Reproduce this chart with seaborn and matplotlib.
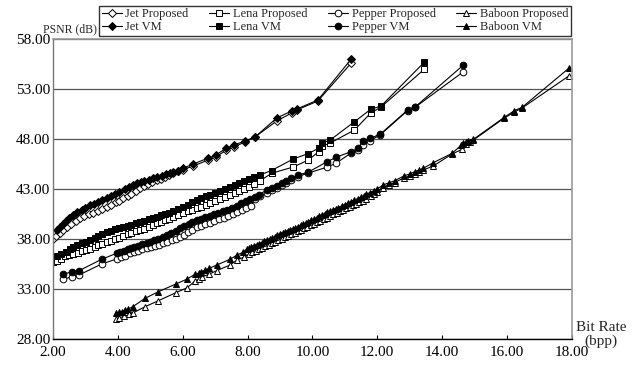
import matplotlib
matplotlib.use("Agg")
import matplotlib.pyplot as plt
import seaborn as sns
import pandas as pd
from matplotlib.lines import Line2D

# ---------------- data ----------------
jet_prop_x = [2.0, 2.1, 2.2, 2.3, 2.42, 2.55, 2.7, 2.83, 2.95, 3.1, 3.24, 3.38, 3.52, 3.66, 3.8, 3.95, 4.05, 4.17, 4.3, 4.42, 4.55, 4.68, 4.8, 4.92, 5.05, 5.2, 5.32, 5.45, 5.58, 5.7, 5.85, 6.0, 6.33, 6.79, 7.02, 7.35, 7.58, 7.92, 8.23, 8.9, 9.36, 9.52, 10.17, 11.2]
jet_prop_y = [38.03, 38.35, 38.65, 38.9, 39.17, 39.5, 39.8, 40.07, 40.3, 40.5, 40.6, 40.8, 41.0, 41.23, 41.45, 41.7, 41.85, 42.07, 42.3, 42.55, 42.8, 43.07, 43.3, 43.5, 43.7, 43.9, 44.05, 44.25, 44.45, 44.6, 44.8, 44.95, 45.3, 45.9, 46.2, 46.9, 47.2, 47.7, 48.2, 49.8, 50.6, 50.9, 51.8, 55.6]
jet_vm_x = [2.11, 2.2, 2.3, 2.4, 2.5, 2.63, 2.75, 2.88, 3.0, 3.14, 3.25, 3.4, 3.52, 3.66, 3.8, 3.92, 4.05, 4.22, 4.35, 4.46, 4.58, 4.7, 4.82, 4.95, 5.09, 5.22, 5.35, 5.5, 5.6, 5.71, 5.85, 6.02, 6.33, 6.79, 7.02, 7.35, 7.58, 7.92, 8.23, 8.9, 9.36, 9.52, 10.17, 11.2]
jet_vm_y = [38.9, 39.2, 39.5, 39.8, 40.1, 40.4, 40.7, 40.95, 41.15, 41.4, 41.55, 41.75, 41.9, 42.07, 42.3, 42.5, 42.7, 42.97, 43.2, 43.4, 43.57, 43.7, 43.8, 43.95, 44.07, 44.2, 44.35, 44.5, 44.6, 44.7, 44.85, 45.1, 45.5, 46.1, 46.4, 47.1, 47.4, 47.8, 48.2, 50.1, 50.8, 51.0, 51.9, 56.0]

lena_prop_x = [2.0, 2.12, 2.25, 2.38, 2.5, 2.63, 2.76, 2.9, 3.02, 3.14, 3.28, 3.4, 3.52, 3.66, 3.8, 3.92, 4.05, 4.17, 4.3, 4.42, 4.55, 4.68, 4.8, 4.95, 5.08, 5.2, 5.32, 5.45, 5.58, 5.71, 5.85, 6.0, 6.15, 6.3, 6.43, 6.58, 6.72, 6.85, 7.0, 7.15, 7.3, 7.45, 7.6, 7.75, 7.9, 8.05, 8.2, 8.38, 8.74, 9.41, 9.88, 10.19, 10.31, 10.55, 11.3, 11.8, 12.12, 13.45]
lena_prop_y = [35.67, 35.85, 36.05, 36.3, 36.45, 36.5, 36.65, 36.85, 36.95, 37.0, 37.2, 37.4, 37.5, 37.67, 37.85, 38.0, 38.15, 38.33, 38.5, 38.65, 38.78, 38.9, 39.05, 39.22, 39.4, 39.57, 39.72, 39.88, 40.05, 40.23, 40.42, 40.6, 40.8, 40.95, 41.07, 41.25, 41.42, 41.6, 41.8, 42.0, 42.2, 42.4, 42.6, 42.8, 43.0, 43.25, 43.5, 43.8, 44.57, 45.2, 45.9, 46.73, 47.3, 47.6, 48.9, 50.6, 51.2, 54.97]
lena_vm_x = [2.11, 2.25, 2.4, 2.52, 2.63, 2.75, 2.9, 3.02, 3.14, 3.28, 3.4, 3.52, 3.66, 3.8, 3.92, 4.05, 4.17, 4.3, 4.42, 4.55, 4.68, 4.8, 4.95, 5.08, 5.2, 5.32, 5.45, 5.58, 5.71, 5.85, 6.0, 6.15, 6.3, 6.43, 6.58, 6.72, 6.85, 7.0, 7.15, 7.3, 7.45, 7.6, 7.75, 7.9, 8.05, 8.2, 8.38, 8.74, 9.41, 9.88, 10.19, 10.31, 10.55, 11.3, 11.8, 12.12, 13.45]
lena_vm_y = [36.3, 36.5, 36.75, 37.0, 37.2, 37.4, 37.6, 37.75, 37.9, 38.1, 38.3, 38.5, 38.7, 38.85, 39.0, 39.12, 39.23, 39.35, 39.45, 39.6, 39.73, 39.85, 40.0, 40.1, 40.23, 40.38, 40.5, 40.65, 40.83, 41.0, 41.2, 41.45, 41.7, 41.9, 42.1, 42.3, 42.45, 42.65, 42.85, 43.05, 43.25, 43.45, 43.65, 43.8, 44.0, 44.2, 44.4, 44.85, 46.0, 46.55, 47.07, 47.6, 47.9, 49.73, 50.97, 51.3, 55.67]

pepper_prop_x = [2.32, 2.58, 2.8, 3.5, 3.96, 4.1, 4.23, 4.37, 4.5, 4.63, 4.76, 4.89, 5.02, 5.15, 5.28, 5.4, 5.53, 5.66, 5.79, 5.91, 6.04, 6.17, 6.3, 6.43, 6.56, 6.7, 6.84, 6.98, 7.12, 7.26, 7.4, 7.54, 7.68, 7.82, 7.96, 8.1, 8.24, 8.38, 8.59, 8.75, 8.9, 9.05, 9.2, 9.35, 9.56, 9.88, 10.44, 10.73, 11.19, 11.42, 11.57, 11.78, 12.09, 12.94, 13.18, 14.66]
pepper_prop_y = [33.97, 34.23, 34.4, 35.5, 36.0, 36.2, 36.35, 36.57, 36.72, 36.85, 36.97, 37.07, 37.2, 37.32, 37.45, 37.57, 37.72, 37.9, 38.05, 38.23, 38.45, 38.7, 38.93, 39.17, 39.35, 39.5, 39.65, 39.82, 39.98, 40.15, 40.32, 40.5, 40.7, 40.9, 41.1, 41.35, 42.0, 42.35, 42.6, 42.9, 43.15, 43.4, 43.65, 43.9, 44.25, 44.6, 45.17, 45.57, 46.6, 46.95, 47.4, 47.85, 48.4, 50.85, 51.2, 54.73]
pepper_vm_x = [2.32, 2.58, 2.8, 3.5, 3.96, 4.08, 4.2, 4.3, 4.4, 4.5, 4.62, 4.75, 4.89, 5.0, 5.12, 5.25, 5.4, 5.52, 5.65, 5.78, 5.91, 6.05, 6.18, 6.3, 6.43, 6.56, 6.7, 6.83, 6.96, 7.1, 7.24, 7.38, 7.52, 7.66, 7.8, 7.94, 8.08, 8.22, 8.36, 8.59, 8.75, 8.9, 9.05, 9.2, 9.35, 9.56, 9.88, 10.44, 10.73, 11.19, 11.42, 11.57, 11.78, 12.09, 12.94, 13.18, 14.66]
pepper_vm_y = [34.47, 34.73, 34.83, 35.97, 36.57, 36.75, 36.85, 36.97, 37.1, 37.2, 37.33, 37.47, 37.63, 37.75, 37.9, 38.05, 38.23, 38.4, 38.6, 38.85, 39.07, 39.3, 39.5, 39.7, 39.9, 40.05, 40.2, 40.35, 40.5, 40.65, 40.8, 40.95, 41.15, 41.35, 41.6, 41.8, 42.0, 42.2, 42.45, 42.9, 43.1, 43.35, 43.6, 43.85, 44.1, 44.4, 44.7, 45.7, 46.17, 46.73, 47.07, 47.83, 48.07, 48.47, 50.9, 51.23, 55.4]

baboon_prop_x = [3.94, 4.05, 4.2, 4.35, 4.48, 4.84, 5.25, 5.79, 6.14, 6.38, 6.5, 6.6, 6.82, 7.05, 7.46, 7.68, 7.9, 8.05, 8.15, 8.25, 8.35, 8.45, 8.55, 8.65, 8.75, 8.85, 8.95, 9.05, 9.15, 9.25, 9.35, 9.45, 9.55, 9.65, 9.75, 9.85, 9.95, 10.05, 10.15, 10.25, 10.35, 10.45, 10.55, 10.65, 10.75, 10.85, 10.95, 11.05, 11.15, 11.25, 11.35, 11.45, 11.55, 11.67, 11.8, 11.9, 12.0, 12.18, 12.35, 12.54, 12.82, 13.0, 13.16, 13.3, 13.42, 13.73, 14.31, 14.62, 14.75, 14.85, 14.97, 15.92, 16.23, 16.47, 17.91]
baboon_prop_y = [29.97, 30.1, 30.3, 30.45, 30.63, 31.23, 31.83, 32.63, 33.13, 33.8, 33.98, 34.2, 34.5, 34.83, 35.4, 35.9, 36.2, 36.5, 36.7, 36.85, 37.0, 37.15, 37.3, 37.45, 37.6, 37.75, 37.9, 38.05, 38.2, 38.35, 38.5, 38.65, 38.8, 38.95, 39.1, 39.25, 39.4, 39.55, 39.7, 39.85, 40.0, 40.15, 40.3, 40.5, 40.65, 40.8, 40.95, 41.1, 41.25, 41.4, 41.55, 41.7, 41.85, 42.05, 42.3, 42.5, 42.7, 43.15, 43.4, 43.65, 44.1, 44.3, 44.5, 44.7, 44.9, 45.3, 46.5, 46.97, 47.5, 47.75, 47.9, 50.1, 50.7, 51.1, 54.3]
baboon_vm_x = [3.94, 4.03, 4.12, 4.22, 4.32, 4.46, 4.84, 5.25, 5.79, 6.12, 6.38, 6.5, 6.58, 6.7, 6.82, 7.05, 7.46, 7.68, 7.87, 7.97, 8.05, 8.12, 8.2, 8.28, 8.36, 8.44, 8.52, 8.6, 8.68, 8.76, 8.84, 8.92, 9.0, 9.08, 9.16, 9.24, 9.32, 9.4, 9.48, 9.56, 9.64, 9.72, 9.8, 9.88, 9.96, 10.04, 10.13, 10.22, 10.3, 10.38, 10.46, 10.55, 10.64, 10.72, 10.8, 10.9, 11.0, 11.1, 11.2, 11.3, 11.4, 11.5, 11.6, 11.67, 11.78, 11.9, 12.0, 12.18, 12.35, 12.54, 12.82, 13.0, 13.16, 13.3, 13.42, 13.73, 14.31, 14.6, 14.66, 14.75, 14.81, 14.97, 15.92, 16.23, 16.47, 17.91]
baboon_vm_y = [30.57, 30.65, 30.73, 30.85, 30.97, 31.23, 32.07, 32.73, 33.5, 33.97, 34.47, 34.6, 34.73, 34.9, 35.07, 35.4, 35.97, 36.4, 36.67, 37.0, 37.15, 37.25, 37.35, 37.45, 37.55, 37.65, 37.78, 37.9, 38.0, 38.12, 38.25, 38.4, 38.55, 38.65, 38.75, 38.85, 38.95, 39.05, 39.15, 39.25, 39.38, 39.5, 39.6, 39.75, 39.88, 40.0, 40.15, 40.3, 40.45, 40.55, 40.7, 40.8, 40.95, 41.05, 41.15, 41.3, 41.45, 41.6, 41.75, 41.9, 42.05, 42.2, 42.35, 42.5, 42.65, 42.85, 43.0, 43.4, 43.6, 43.83, 44.3, 44.5, 44.73, 44.9, 45.07, 45.63, 46.57, 47.4, 47.57, 47.7, 47.83, 47.97, 50.17, 50.83, 51.17, 55.07]

series_names = ["Jet Proposed", "Jet VM", "Lena Proposed", "Lena VM",
                "Pepper Proposed", "Pepper VM", "Baboon Proposed", "Baboon VM"]
x_ticks = [2, 4, 6, 8, 10, 12, 14, 16, 18]
y_ticks = [28, 33, 38, 43, 48, 53, 58]

# ---------------- style ----------------
sns.set_theme(style="white")
plt.rcParams["font.family"] = ["Liberation Serif", "DejaVu Serif"]

series = [
    (jet_prop_x, jet_prop_y, "D", "white", 3.6),
    (jet_vm_x, jet_vm_y, "D", "black", 3.6),
    (lena_prop_x, lena_prop_y, "s", "white", 4.4),
    (lena_vm_x, lena_vm_y, "s", "black", 4.4),
    (pepper_prop_x, pepper_prop_y, "o", "white", 4.8),
    (pepper_vm_x, pepper_vm_y, "o", "black", 4.8),
    (baboon_prop_x, baboon_prop_y, "^", "white", 4.8),
    (baboon_vm_x, baboon_vm_y, "^", "black", 4.8),
]

fig = plt.figure(figsize=(6.35, 3.67), dpi=100)
ax = fig.add_axes([0.0835, 0.0763, 0.8168, 0.8174])

handles = []
for name, (xs, ys, mk, fc, ms) in zip(series_names, series):
    df = pd.DataFrame({"x": xs, "y": ys})
    sns.lineplot(data=df, x="x", y="y", ax=ax, sort=False, estimator=None,
                 color="black", linewidth=0.8, marker=mk, markersize=ms,
                 markerfacecolor=fc, markeredgecolor="black", markeredgewidth=0.7)
    handles.append(Line2D([], [], color="black", linewidth=0.8, marker=mk,
                          markersize=ms, markerfacecolor=fc,
                          markeredgecolor="black", markeredgewidth=0.7, label=name))

ax.set_xlim(2, 18)
ax.set_ylim(28, 58)
ax.set_xticks(x_ticks)
ax.set_yticks(y_ticks)
ax.set_xticklabels([f"{v:.2f}" for v in x_ticks], fontsize=11)
ax.set_yticklabels([f"{v:.2f}" for v in y_ticks], fontsize=11)
ax.set_xlabel("")
ax.set_ylabel("")
ax.tick_params(axis="x", direction="in", length=3, width=0.8, colors="black",
               pad=5, bottom=True)
ax.tick_params(axis="y", length=0, pad=2, colors="black")

ax.yaxis.grid(True, color="#555555", linewidth=0.9)
ax.xaxis.grid(False)
ax.set_axisbelow(True)
for side in ["top", "right"]:
    ax.spines[side].set_color("#999999")
    ax.spines[side].set_linewidth(1.2)
ax.spines["left"].set_color("#777777")
ax.spines["left"].set_linewidth(1.0)
ax.spines["bottom"].set_color("black")
ax.spines["bottom"].set_linewidth(1.0)

fig.text(0.153, 0.905, "PSNR (dB)", ha="right", va="bottom", fontsize=8.5)
fig.text(0.947, 0.052, "Bit Rate\n(bpp)", ha="center", va="bottom",
         fontsize=11, linespacing=1.0)

leg = fig.legend(handles=handles, ncol=4, loc="lower left",
                 bbox_to_anchor=(0.156, 0.902, 0.743, 0.079), mode="expand",
                 frameon=True, fancybox=False, edgecolor="black", fontsize=9,
                 handlelength=1.6, handletextpad=0.3, borderaxespad=0,
                 borderpad=0.2, labelspacing=0.1, columnspacing=1.0)
leg.get_frame().set_linewidth(1.0)

fig.savefig("out.png", dpi=100)
